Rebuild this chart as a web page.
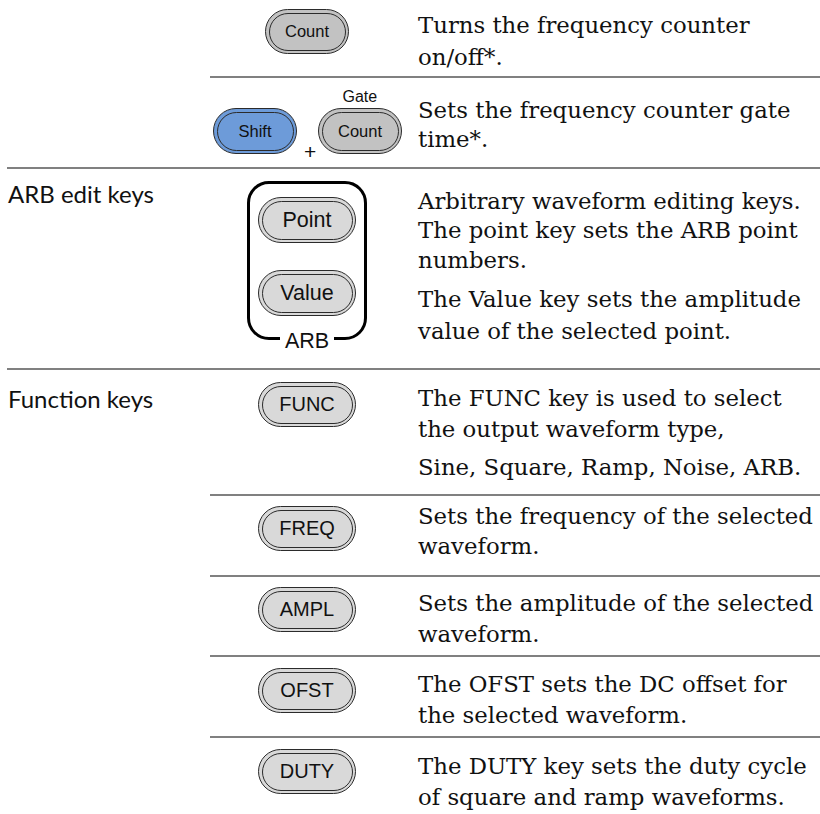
<!DOCTYPE html>
<html lang="en">
<head>
  <meta charset="utf-8" />
  <title>Function generator keys</title>
  <style>
    html, body {
      margin: 0;
      padding: 0;
      background: #ffffff;
    }
    #page {
      position: relative;
      width: 820px;
      height: 814px;
      overflow: hidden;
      color: #111;
    }
    .rule {
      position: absolute;
      height: 2px;
      background: #808080;
    }
    .txt {
      position: absolute;
      white-space: nowrap;
      line-height: 1;
    }
    .key {
      position: absolute;
      box-sizing: border-box;
      border: 1.5px solid #2b2b2b;
      padding: 2.5px;
    }
    .key .inner {
      box-sizing: border-box;
      width: 100%;
      height: 100%;
      border: 1.3px solid #2b2b2b;
      display: flex;
      align-items: center;
      justify-content: center;
      font-family: 'Liberation Sans', Arial, sans-serif;
      color: #111;
    }
    .arb-box {
      position: absolute;
      box-sizing: border-box;
      border: 3.4px solid #000;
      border-radius: 22px;
    }
  </style>
</head>
<body>
  <div id="page"></div>

  <script src="https://cdn.jsdelivr.net/npm/chart.js"></script>

  <script>
    // table content, one entry per row
    const sectionLabels = ['', '', 'ARB edit keys', 'Function keys', '', '', '', ''];
    const rowKeys = [
      ['Count'],
      ['Shift', 'Count'],
      ['Point', 'Value'],
      ['FUNC'],
      ['FREQ'],
      ['AMPL'],
      ['OFST'],
      ['DUTY']
    ];
    const keyCaptions = ['', 'Gate', 'ARB', '', '', '', '', ''];
    const descriptions = [
      ['Turns the frequency counter', 'on/off*.'],
      ['Sets the frequency counter gate', 'time*.'],
      ['Arbitrary waveform editing keys.', 'The point key sets the ARB point', 'numbers.', 'The Value key sets the amplitude', 'value of the selected point.'],
      ['The FUNC key is used to select', 'the output waveform type,', 'Sine, Square, Ramp, Noise, ARB.'],
      ['Sets the frequency of the selected', 'waveform.'],
      ['Sets the amplitude of the selected', 'waveform.'],
      ['The OFST sets the DC offset for', 'the selected waveform.'],
      ['The DUTY key sets the duty cycle', 'of square and ramp waveforms.']
    ];

    // layout
    const page = document.getElementById('page');
    const bodyFont = "22.8px 'DejaVu Serif', serif";
    const labelFont = "24px Lato, 'Open Sans', sans-serif";
    const keyFont = "'Liberation Sans', Arial, sans-serif";
    const textX = 418;
    const labelX = 8;
    const keyCx = 307;

    // row dividers: y position and left start
    const rules = [[77, 210], [168, 7], [369, 7], [495, 210], [576, 210], [656, 210], [737, 210]];
    const textBaselines = [
      [33, 65],
      [118, 147],
      [209, 238, 268, 307, 339],
      [406, 437, 475],
      [524, 554],
      [611, 642],
      [692, 723],
      [774, 805]
    ];
    const labelBaseline = [0, 0, 203, 408, 0, 0, 0, 0];
    const keyTop = [9, 108, 197, 382, 506, 587, 668, 749];

    const mctx = document.createElement('canvas').getContext('2d');
    function baselineOffset(font, size) {
      mctx.font = font;
      const m = mctx.measureText('Hg');
      return size / 2 + (m.fontBoundingBoxAscent - m.fontBoundingBoxDescent) / 2;
    }

    function addText(str, x, baseline, font, size, align) {
      const el = document.createElement('div');
      el.className = 'txt';
      el.textContent = str;
      el.style.font = font;
      el.style.lineHeight = size + 'px';
      el.style.top = (baseline - baselineOffset(font, size)) + 'px';
      page.appendChild(el);
      el.style.left = (align === 'center' ? x - el.offsetWidth / 2 : x) + 'px';
      return el;
    }

    function addKey(label, cx, top, w, h, fill, fontSize) {
      const k = document.createElement('div');
      k.className = 'key';
      k.style.left = (cx - w / 2) + 'px';
      k.style.top = top + 'px';
      k.style.width = w + 'px';
      k.style.height = h + 'px';
      k.style.borderRadius = (h / 2) + 'px';
      k.style.background = fill;
      const inner = document.createElement('div');
      inner.className = 'inner';
      inner.style.borderRadius = (h / 2 - 3) + 'px';
      inner.style.background = fill;
      inner.style.fontSize = fontSize + 'px';
      inner.textContent = label;
      k.appendChild(inner);
      page.appendChild(k);
    }

    rules.forEach(([y, x0]) => {
      const r = document.createElement('div');
      r.className = 'rule';
      r.style.top = (y - 1) + 'px';
      r.style.left = x0 + 'px';
      r.style.width = (820 - x0) + 'px';
      page.appendChild(r);
    });

    sectionLabels.forEach((label, i) => {
      if (label) addText(label, labelX, labelBaseline[i], labelFont, 24);
    });

    descriptions.forEach((lines, i) => {
      lines.forEach((line, j) => addText(line, textX, textBaselines[i][j], bodyFont, 22.8));
    });

    // keys
    rowKeys.forEach((keys, i) => {
      if (i === 0) {
        addKey(keys[0], keyCx, keyTop[i], 84, 45, '#c2c2c2', 16.5);
      } else if (i === 1) {
        addKey(keys[0], 255, keyTop[i], 84, 46, '#6d9bd9', 16.5);
        addKey(keys[1], 360, keyTop[i], 84, 46, '#c2c2c2', 16.5);
        addText(keyCaptions[i], 360, 102, '16px ' + keyFont, 16, 'center');
        addText('+', 310, 159, '21px ' + keyFont, 21, 'center');
      } else if (i === 2) {
        const box = document.createElement('div');
        box.className = 'arb-box';
        box.style.left = '247px';
        box.style.top = '181px';
        box.style.width = '120px';
        box.style.height = '159px';
        page.appendChild(box);
        addKey(keys[0], keyCx, keyTop[i], 98, 46, '#d9d9d9', 21.5);
        addKey(keys[1], keyCx, 270, 98, 46, '#d9d9d9', 21.5);
        const cap = addText(keyCaptions[i], keyCx, 349, '21.5px ' + keyFont, 21.5, 'center');
        cap.style.background = '#fff';
        cap.style.padding = '0 5px';
        cap.style.left = (keyCx - cap.offsetWidth / 2) + 'px';
      } else {
        addKey(keys[0], keyCx, keyTop[i], 98, 45, '#d9d9d9', 20);
      }
    });
  </script>
</body>
</html>
